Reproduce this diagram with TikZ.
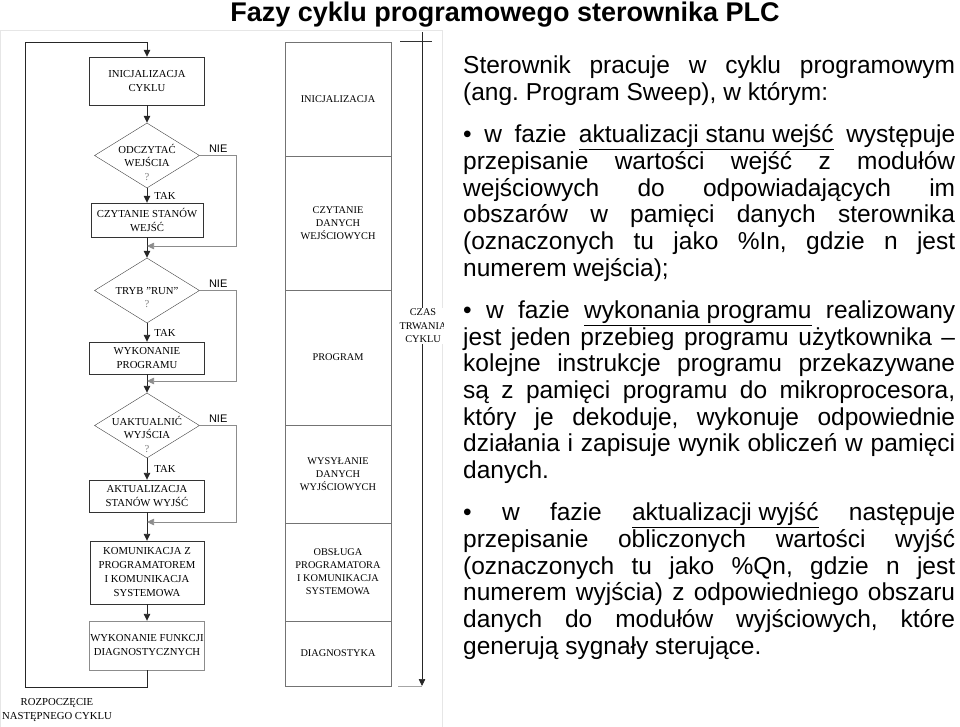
\documentclass[tikz,border=0pt]{standalone}
\usepackage{fontspec}
\setmainfont{Liberation Serif}
\newfontfamily\arialfont{Liberation Sans}
\usepackage{tikz}
\usetikzlibrary{shapes.geometric}
\usetikzlibrary{arrows.meta}
\usetikzlibrary{positioning}
\definecolor{FrameGray}{HTML}{E6E6E6}
\frenchspacing

\begin{document}
\begin{tikzpicture}[x=1pt,y=-1pt,
    >={Triangle[length=7pt,width=6.5pt]},
    box/.style={draw=black!80, minimum width=115pt, inner sep=0pt, align=center,
      font=\fontsize{10.7}{14}\selectfont},
    dec/.style={draw=black!75, diamond, minimum width=105pt, minimum height=65pt, inner sep=0pt},
    dectext/.style={align=center, inner sep=0pt, font=\fontsize{10.7}{13.5}\selectfont},
    flow/.style={draw=black!85, line width=0.9pt},
    nieloop/.style={draw=black!45, line width=0.7pt},
    nie/.style={font=\arialfont\fontsize{11}{13}\selectfont, inner sep=3pt},
    tak/.style={font=\fontsize{10.7}{13}\selectfont, inner sep=3pt, xshift=4pt},
    phase/.style={draw=black!55, minimum width=106pt, inner sep=0pt, outer sep=0pt,
      align=center, font=\fontsize{10.3}{13}\selectfont},
    para/.style={text width=492pt, align=justify, inner sep=0pt, anchor=north west,
      font=\arialfont\fontsize{24.5}{26.7}\selectfont}]
  \useasboundingbox (0,0) rectangle (960,727);

  % title
  \node[font=\arialfont\bfseries\fontsize{27}{30}\selectfont] (title) at (505,15)
    {Fazy cyklu programowego sterownika PLC};

  % flowchart
  \draw[FrameGray] (0,30) rectangle (442,727);
  \begin{scope}
    \clip (0,30) rectangle (443,727);
    \node[box, minimum height=48pt] (b1) at (147,81) {INICJALIZACJA\\CYKLU};
    \node[dec] (d1) at (147,155.5) {};
    \node[dectext] (d1t) at (147,162) {ODCZYTAĆ\\WEJŚCIA\\{\color{black!50}?}};
    \node[box, minimum width=112pt, minimum height=34pt] (b2) at (147,220) {CZYTANIE STANÓW\\WEJŚĆ};
    \node[dec] (d2) at (147,290.5) {};
    \node[dectext] (d2t) at (147,297.5) {TRYB "RUN"\\{\color{black!50}?}};
    \node[box, minimum height=32pt] (b3) at (147,358) {WYKONANIE\\PROGRAMU};
    \node[dec] (d3) at (147,425.5) {};
    \node[dectext] (d3t) at (147,434) {UAKTUALNIĆ\\WYJŚCIA\\{\color{black!50}?}};
    \node[box, minimum height=32pt] (b4) at (147,496) {AKTUALIZACJA\\STANÓW WYJŚĆ};
    \node[box, minimum width=114pt, minimum height=63pt] (b5) at (147,572.5)
      {KOMUNIKACJA Z\\PROGRAMATOREM\\I KOMUNIKACJA\\SYSTEMOWA};
    \node[box, draw=black!45, minimum width=115pt, minimum height=49pt] (b6) at (147,645.5)
      {WYKONANIE FUNKCJI\\DIAGNOSTYCZNYCH};
    \node[align=center, font=\fontsize{10.7}{14}\selectfont] (next) at (57,710)
      {ROZPOCZĘCIE\\NASTĘPNEGO CYKLU};

    \coordinate (j1) at (147,246);
    \coordinate (j2) at (147,381);
    \coordinate (j3) at (147,522);
    \coordinate (back) at (25,42);

    \draw[flow,->] (b1) -- (d1);
    \draw[flow,->] (d1) -- node[tak,right] {TAK} (b2);
    \draw[flow,->] (b2) -- (d2);
    \draw[flow,->] (d2) -- node[tak,right] {TAK} (b3);
    \draw[flow,->] (b3) -- (d3);
    \draw[flow,->] (d3) -- node[tak,right] {TAK} (b4);
    \draw[flow,->] (b4) -- (b5);
    \draw[flow,->] (b5) -- (b6);
    \draw[flow,->] (b6.south) -- ++(0,17) -| (back) -| (b1.north);

    \draw[nieloop,->] (d1.east) -- node[nie,above] {NIE} ++(37,0) |- (j1);
    \draw[nieloop,->] (d2.east) -- node[nie,above] {NIE} ++(37,0) |- (j2);
    \draw[nieloop,->] (d3.east) -- node[nie,above] {NIE} ++(37,0) |- (j3);

    % phases of one cycle
    \node[phase, minimum height=114pt] (ph1) at (338,99) {INICJALIZACJA};
    \node[phase, minimum height=134pt, below=0pt of ph1] (ph2) {CZYTANIE\\DANYCH\\WEJŚCIOWYCH};
    \node[phase, minimum height=135pt, below=0pt of ph2] (ph3) {PROGRAM};
    \node[phase, minimum height=98pt, below=0pt of ph3] (ph4) {WYSYŁANIE\\DANYCH\\WYJŚCIOWYCH};
    \node[phase, minimum height=98pt, below=0pt of ph4] (ph5)
      {OBSŁUGA\\PROGRAMATORA\\I KOMUNIKACJA\\SYSTEMOWA};
    \node[phase, minimum height=65pt, below=0pt of ph5] (ph6) {DIAGNOSTYKA};

    \coordinate (t0) at (422,32);
    \coordinate (t1) at (422,686);
    \draw[black!80, line width=0.7pt] (400,41) -- (432,41);
    \draw[black!35, line width=0.7pt] (398,686) -- (t1);
    \draw[black!85, line width=0.7pt, ->] (t0) -- (t1);
    \node[fill=white, inner sep=1pt, align=center, font=\fontsize{10.3}{13.5}\selectfont] (czas)
      at (423,326) {CZAS\\TRWANIA\\CYKLU};
  \end{scope}

  % description
  \node[para] (intro) at (463,55.5)
    {Sterownik pracuje w cyklu programowym\linebreak
     (ang. Program Sweep), w którym:};
  \node[para] (inputs) at (463,124.5)
    {• w fazie \underline{aktualizacji stanu wejść} występuje\linebreak
     przepisanie wartości wejść z modułów\linebreak
     wejściowych do odpowiadających im\linebreak
     obszarów w pamięci danych sterownika\linebreak
     (oznaczonych tu jako \%In, gdzie n jest\linebreak
     numerem wejścia);};
  \node[para] (exec) at (463,300.5)
    {• w fazie \underline{wykonania programu} realizowany\linebreak
     jest jeden przebieg programu użytkownika –\linebreak
     kolejne instrukcje programu przekazywane\linebreak
     są z pamięci programu do mikroprocesora,\linebreak
     który je dekoduje, wykonuje odpowiednie\linebreak
     działania i zapisuje wynik obliczeń w pamięci\linebreak
     danych.};
  \node[para] (outputs) at (463,502.5)
    {• w fazie \underline{aktualizacji wyjść} następuje\linebreak
     przepisanie obliczonych wartości wyjść\linebreak
     (oznaczonych tu jako \%Qn, gdzie n jest\linebreak
     numerem wyjścia) z odpowiedniego obszaru\linebreak
     danych do modułów wyjściowych, które\linebreak
     generują sygnały sterujące.};
\end{tikzpicture}
\end{document}
